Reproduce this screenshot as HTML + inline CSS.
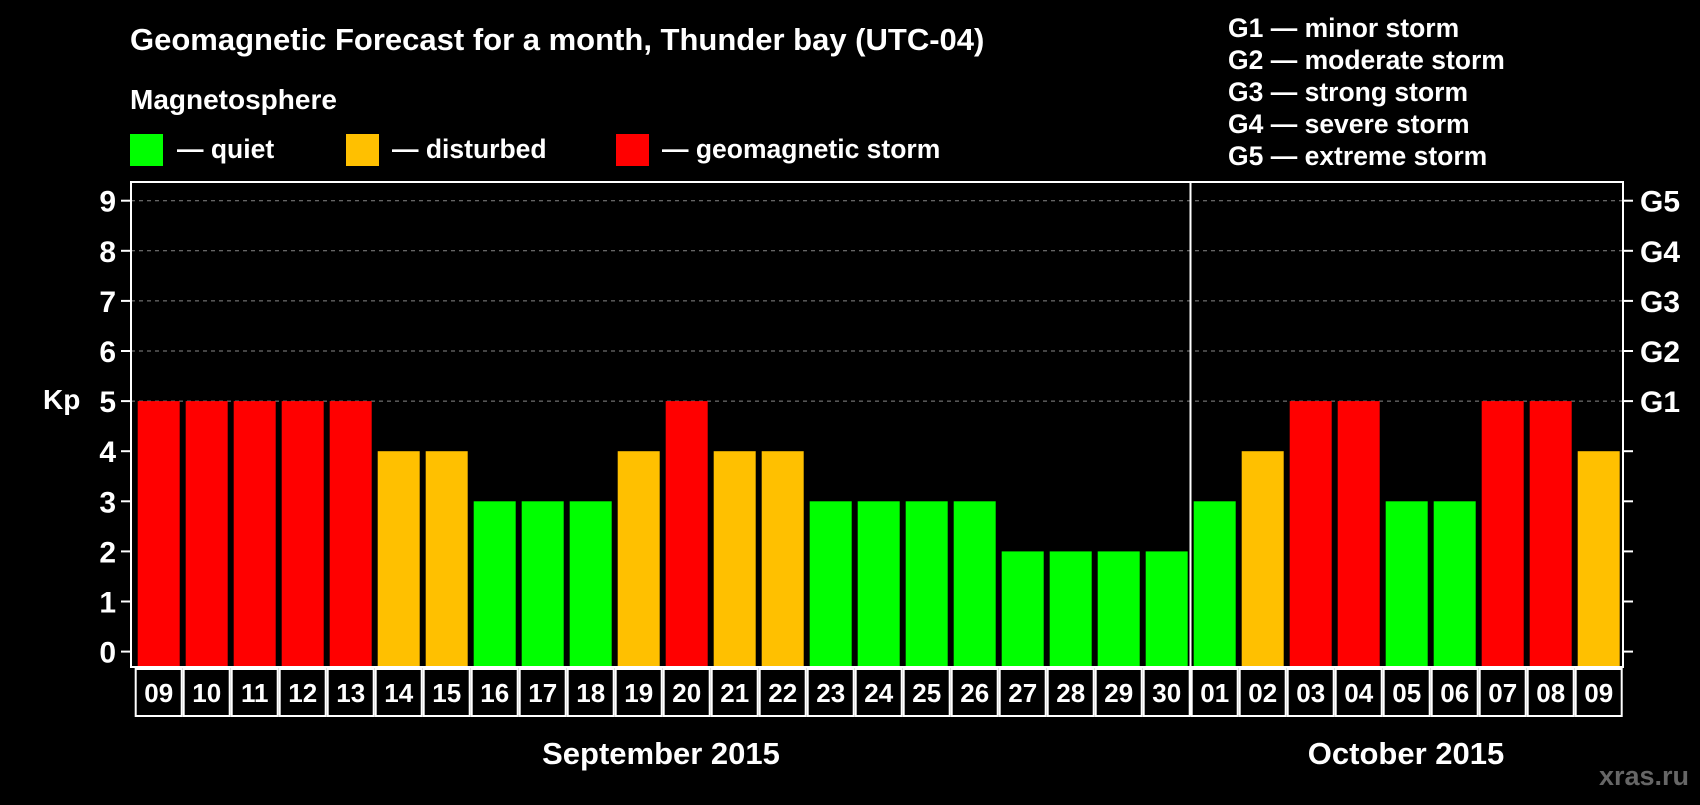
<!DOCTYPE html>
<html><head><meta charset="utf-8"><style>
body{margin:0;background:#000;width:1700px;height:800px;overflow:hidden;font-family:"Liberation Sans",Arial,sans-serif;font-weight:bold;color:#fff}
svg text{font-family:"Liberation Sans",Arial,sans-serif;font-weight:bold;fill:#fff}
</style></head><body>
<svg id="chart" width="1700" height="800">
<text x="130" y="50" font-size="31">Geomagnetic Forecast for a month, Thunder bay (UTC-04)</text>
<text x="130" y="109" font-size="28">Magnetosphere</text>
<g><rect x="130" y="134" width="33" height="32" fill="#00ff00"/><text x="177" y="158" font-size="26.5">— quiet</text></g>
<g><rect x="346" y="134" width="33" height="32" fill="#ffc000"/><text x="392" y="158" font-size="26.5">— disturbed</text></g>
<g><rect x="616" y="134" width="33" height="32" fill="#ff0000"/><text x="662" y="158" font-size="26.5">— geomagnetic storm</text></g>
<g font-size="26.5">
<text x="1228" y="37">G1 — minor storm</text>
<text x="1228" y="69">G2 — moderate storm</text>
<text x="1228" y="101">G3 — strong storm</text>
<text x="1228" y="133">G4 — severe storm</text>
<text x="1228" y="165">G5 — extreme storm</text>
</g>
<text x="43" y="409" font-size="28">Kp</text>
<g id="grid"></g><g id="bars"></g>
<rect x="131" y="182" width="1492" height="485" fill="none" stroke="#fff" stroke-width="2"/>
<line x1="1190.5" y1="182" x2="1190.5" y2="716" stroke="#fff" stroke-width="2"/>
<g id="axes"></g>
<text x="661" y="764" font-size="31" text-anchor="middle">September 2015</text>
<text x="1406" y="764" font-size="31" text-anchor="middle">October 2015</text>
<text x="1644" y="785" font-size="27" text-anchor="middle" style="fill:#666">xras.ru</text>
</svg>
<script>
const days=["09","10","11","12","13","14","15","16","17","18","19","20","21","22","23","24","25","26","27","28","29","30","01","02","03","04","05","06","07","08","09"];
const kp=[5,5,5,5,5,4,4,3,3,3,4,5,4,4,3,3,3,3,2,2,2,2,3,4,5,5,3,3,5,5,4];
const yTicks=[0,1,2,3,4,5,6,7,8,9];
const gLabels=["G1","G2","G3","G4","G5"];
const NS="http://www.w3.org/2000/svg";
const y=v=>651.6-v*50.1;
const x0=137.7,pitch=48.0,bw=42;
function mk(t,a,p){const e=document.createElementNS(NS,t);for(const k in a)e.setAttribute(k,a[k]);(p||document.getElementById('chart')).appendChild(e);return e;}
const grid=document.getElementById('grid'),bars=document.getElementById('bars'),axes=document.getElementById('axes');
yTicks.forEach(v=>{
 if(v>=5){const l=mk('line',{x1:131,x2:1623,y1:y(v),y2:y(v),stroke:'#888','stroke-dasharray':'4,4','stroke-width':1},grid);
 
 }
 mk('line',{x1:121,x2:131,y1:y(v),y2:y(v),stroke:'#fff','stroke-width':2},axes);
 mk('line',{x1:1623,x2:1633,y1:y(v),y2:y(v),stroke:'#fff','stroke-width':2},axes);
 const t=mk('text',{x:116,y:y(v)+11,'font-size':30,'text-anchor':'end'},axes);t.textContent=v;
 
 
});
gLabels.forEach((g,i)=>{const t=mk('text',{x:1640,y:y(5+i)+11,'font-size':30},axes);t.textContent=g;
 
 });
kp.forEach((v,i)=>{
 const c=v>=5?'#ff0000':v==4?'#ffc000':'#00ff00';
 const bx=x0+i*pitch;
 const r=mk('rect',{x:bx,y:y(v),width:bw,height:666-y(v),fill:c},bars);
 
 
 const cx=bx+bw/2;
 const b=mk('rect',{x:cx-pitch/2+1,y:669,width:pitch-2,height:47,fill:'none',stroke:'#fff','stroke-width':2},axes);
 
 
 const t=mk('text',{x:cx,y:702,'font-size':26,'text-anchor':'middle'},axes);t.textContent=days[i];
 
 
});
</script>
</body></html>
